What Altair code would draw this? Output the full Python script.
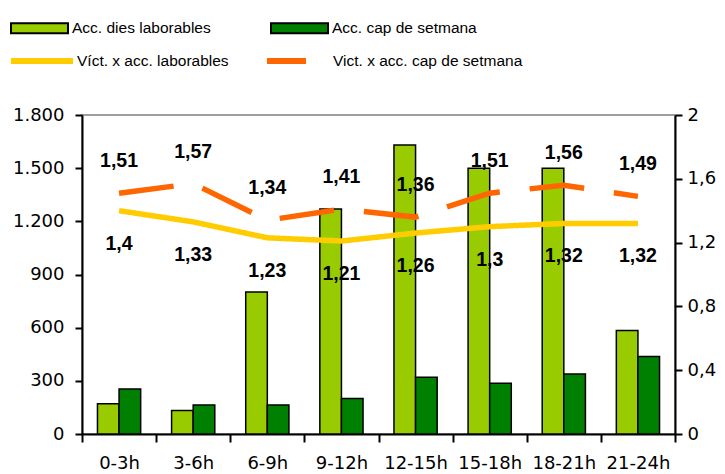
import altair as alt
import pandas as pd

hores = ["0-3h", "3-6h", "6-9h", "9-12h", "12-15h", "15-18h", "18-21h", "21-24h"]
acc_laborables = [170, 132, 801, 1269, 1631, 1499, 1499, 584]
acc_cap_setmana = [254, 164, 164, 201, 320, 286, 339, 437]
vict_laborables = [1.4, 1.33, 1.23, 1.21, 1.26, 1.3, 1.32, 1.32]
vict_cap_setmana = [1.51, 1.57, 1.34, 1.41, 1.36, 1.51, 1.56, 1.49]

bar_series = ["Acc. dies laborables", "Acc. cap de setmana"]
line_series = ["Víct. x acc. laborables", "Vict. x acc. cap de setmana"]
bar_colors = ["#99CC00", "#008000"]
line_colors = ["#FFCC00", "#FF6600"]

bars_df = pd.DataFrame(
    [{"hora": h, "serie": bar_series[0], "valor": v} for h, v in zip(hores, acc_laborables)]
    + [{"hora": h, "serie": bar_series[1], "valor": v} for h, v in zip(hores, acc_cap_setmana)]
)
lines_df = pd.DataFrame(
    [{"hora": h, "serie": line_series[0], "ratio": v, "label": str(v).replace(".", ",")}
     for h, v in zip(hores, vict_laborables)]
    + [{"hora": h, "serie": line_series[1], "ratio": v, "label": str(v).replace(".", ",")}
       for h, v in zip(hores, vict_cap_setmana)]
)

LEG_FONT = "Liberation Sans"
LEG_SIZE = 15.5

x_enc = alt.X(
    "hora:N",
    sort=hores,
    scale=alt.Scale(domain=hores, paddingInner=0, paddingOuter=0),
    axis=alt.Axis(title=None, labelAngle=0, tickBand="extent", tickSize=8, labelPadding=12),
)

bars = alt.Chart(bars_df).mark_bar(stroke="black", strokeWidth=1.5).encode(
    x=x_enc,
    xOffset=alt.XOffset("serie:N", sort=bar_series,
                        scale=alt.Scale(domain=bar_series, paddingInner=0, paddingOuter=0.716)),
    y=alt.Y("valor:Q", scale=alt.Scale(domain=[0, 1800], nice=False),
            axis=alt.Axis(title=None, orient="left", values=list(range(0, 1801, 300)),
                          format=",d", labelExpr="replace(datum.label, ',', '.')",
                          labelPadding=11)),
    fill=alt.Fill("serie:N", scale=alt.Scale(domain=bar_series, range=bar_colors),
                  legend=alt.Legend(orient="none", legendX=-72, legendY=-116.5,
                                    direction="horizontal", title=None,
                                    symbolType="M-1,-0.175H1V0.175H-1Z", symbolSize=3249,
                                    symbolStrokeColor="black", symbolStrokeWidth=2,
                                    symbolOpacity=1,
                                    labelFont=LEG_FONT, labelFontSize=LEG_SIZE,
                                    labelColor="black", labelOffset=3, columnPadding=56,
                                    labelLimit=400)),
)

line_legend = alt.Legend(orient="none", legendX=-74, legendY=-88,
                         direction="horizontal", title=None,
                         symbolType="stroke", symbolSize=3844, symbolStrokeWidth=6,
                         symbolDashOffset=16,
                         labelFont=LEG_FONT, labelFontSize=LEG_SIZE,
                         labelColor="black", labelOffset=1, columnPadding=26,
                         labelLimit=400)

y2 = alt.Y("ratio:Q", scale=alt.Scale(domain=[0, 2], nice=False),
           axis=alt.Axis(title=None, orient="right", values=[0, 0.4, 0.8, 1.2, 1.6, 2],
                         format="~g", labelExpr="replace(datum.label, '.', ',')",
                         labelPadding=5))

lines = alt.Chart(lines_df).mark_line(strokeWidth=5.5, strokeCap="butt").encode(
    x=alt.X("hora:N", sort=hores),
    y=y2,
    stroke=alt.Stroke("serie:N", scale=alt.Scale(domain=line_series, range=line_colors),
                      legend=line_legend),
    strokeDash=alt.StrokeDash("serie:N", scale=alt.Scale(domain=line_series,
                                                         range=[[1, 0], [55, 30]]),
                              legend=line_legend),
)

text_lab = alt.Chart(lines_df).transform_filter(
    alt.datum.serie == line_series[0]
).mark_text(font="Liberation Sans", fontWeight="bold", fontSize=19.5, dy=33,
            color="black", baseline="middle").encode(
    x=alt.X("hora:N", sort=hores), y=alt.Y("ratio:Q"), text="label:N")

text_cap = alt.Chart(lines_df).transform_filter(
    alt.datum.serie == line_series[1]
).mark_text(font="Liberation Sans", fontWeight="bold", fontSize=19.5, dy=-32,
            color="black", baseline="middle").encode(
    x=alt.X("hora:N", sort=hores), y=alt.Y("ratio:Q"), text="label:N")

chart = alt.layer(bars, alt.layer(lines, text_lab, text_cap)).resolve_scale(
    y="independent"
).properties(
    width=593, height=319,
    padding={"left": 74, "top": 107, "right": 42, "bottom": 40},
    autosize="none",
    background="white",
).configure_axis(
    labelFont="DejaVu Sans", labelFontSize=18, labelColor="black",
    domainColor="black", domainWidth=2, tickColor="black", tickWidth=2,
    tickSize=7, grid=False,
).configure_view(stroke="#808080", strokeWidth=1.5)

chart.save("out.html", embed_options={"renderer": "svg", "actions": False})
